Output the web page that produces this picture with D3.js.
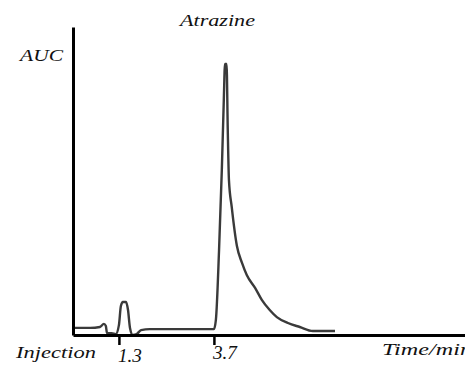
<!DOCTYPE html>
<html>
<head>
<meta charset="utf-8">
<script src="https://cdn.jsdelivr.net/npm/d3@7"></script>
<style>
  body { margin: 0; background: #fff; }
  svg { display: block; }
  .lbl { font-family: "Liberation Serif", "Times New Roman", Times, serif; font-style: italic; font-size: 17px; fill: #111; }
</style>
</head>
<body>
<svg id="chart" width="465" height="365"></svg>
<script>
// retention time (min) and detector response (arbitrary AUC units)
const times = [0.16, 0.57, 0.82, 0.92, 0.97, 1.0, 1.12, 1.22, 1.3, 1.35, 1.4, 1.48, 1.53, 1.58, 1.65, 1.75, 1.86, 2.08,
  3.7, 3.75, 3.83, 3.9, 3.95, 3.98, 4.02, 4.05, 4.08, 4.15, 4.28, 4.41, 4.53, 4.74, 4.91, 5.11, 5.29, 5.57, 5.87, 6.2, 6.76];
const signal = [2.3, 2.3, 2.6, 3.6, 2.9, 0.6, 0.6, 0.3, 3.2, 9.4, 10.7, 10.7, 8.1, 2.3, 0, 0.3, 1.6, 1.9,
  1.9, 4.9, 27.6, 53.6, 76.3, 88.0, 88.0, 66.6, 50.3, 41.6, 29.0, 23.4, 19.5, 15.3, 11.4, 8.1, 5.8, 3.9, 2.6, 1.3, 1.3];
const tickTimes = [1.3, 3.7];
const tickLabels = ['1.3', '3.7'];

const svg = d3.select('#chart');
const m = { left: 73, right: 470, top: 27, bottom: 335 };

const x = d3.scaleLinear().domain([0.14, 10.17]).range([m.left, m.right]);
const y = d3.scaleLinear().domain([0, 100]).range([m.bottom, m.top]);

// trace
const line = d3.line().x((d, i) => x(times[i])).y(d => y(d)).curve(d3.curveMonotoneX);
svg.append('path')
  .datum(signal)
  .attr('d', line)
  .attr('fill', 'none')
  .attr('stroke', '#3a3a3a')
  .attr('stroke-width', 2.4)
  .attr('stroke-linejoin', 'round');

// axes
const xAxis = svg.append('g').attr('transform', `translate(0,${m.bottom})`)
  .call(d3.axisBottom(x).tickValues(tickTimes).tickSize(10).tickSizeOuter(0).tickFormat(''));
xAxis.select('.domain').attr('stroke', '#000').attr('stroke-width', 3);
xAxis.selectAll('.tick line').attr('stroke', '#000').attr('stroke-width', 2.5);

const yAxis = svg.append('g').attr('transform', `translate(${m.left},0)`)
  .call(d3.axisLeft(y).tickValues([]).tickSizeOuter(0));
yAxis.select('.domain').attr('stroke', '#000').attr('stroke-width', 3);

// tick labels
svg.selectAll('text.tl')
  .data(tickTimes).enter().append('text')
  .attr('class', 'lbl tl')
  .attr('x', d => x(d) - 1)
  .attr('y', (d, i) => i === 0 ? 362 : 359)
  .attr('textLength', 24)
  .attr('lengthAdjust', 'spacingAndGlyphs')
  .style('font-size', '18px')
  .text((d, i) => tickLabels[i]);

const label = (txt, lx, ly, len) => svg.append('text').attr('class', 'lbl')
  .attr('x', lx).attr('y', ly)
  .attr('textLength', len).attr('lengthAdjust', 'spacingAndGlyphs')
  .text(txt);

label('Atrazine', 180, 26, 75);
label('AUC', 20, 61, 43);
label('Injection', 16, 358, 80);
label('Time/min', 382, 355, 90);
</script>
</body>
</html>
